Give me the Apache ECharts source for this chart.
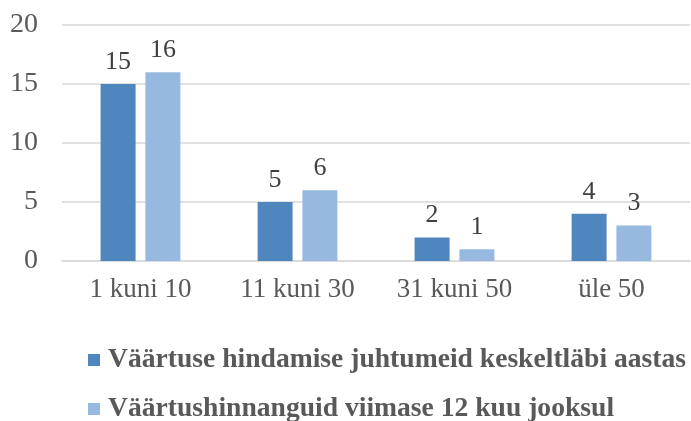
<!DOCTYPE html>
<html>
<head>
<meta charset="UTF-8">
<title></title>
<script src="https://cdn.jsdelivr.net/npm/echarts@6/dist/echarts.min.js"></script>
<style>
  html, body { margin: 0; padding: 0; background: #fff; }
  #main { width: 691px; height: 421px; }
</style>
</head>
<body>
<div id="main"></div>
<script>
// andmed
var categories = ['1 kuni 10', '11 kuni 30', '31 kuni 50', 'üle 50'];
var seriesNames = ['Väärtuse hindamise juhtumeid keskeltläbi aastas', 'Väärtushinnanguid viimase 12 kuu jooksul'];
var avgPerYear = [15, 5, 2, 4];
var last12Months = [16, 6, 1, 3];
var yTicks = [0, 5, 10, 15, 20];

var font = '"Liberation Serif", "Times New Roman", serif';

// legend: üks kirje rea kohta
function legendRow(name, top) {
    return {
        orient: 'vertical',
        left: 88,
        top: top,
        padding: 0,
        itemWidth: 12,
        itemHeight: 12,
        itemGap: 0,
        icon: 'rect',
        textStyle: { fontFamily: font, fontSize: 27.6, lineHeight: 24, fontWeight: 'bold', color: '#595959', padding: [0, 0, 0, 3] },
        data: [name]
    };
}

var chart = echarts.init(document.getElementById('main'));
chart.setOption({
    animation: false,
    color: ['#4F86BE', '#97B9E0'],
    grid: { left: 62, right: 1, top: 25, bottom: 160, containLabel: false },
    legend: [legendRow(seriesNames[0], 346), legendRow(seriesNames[1], 395)],
    xAxis: {
        type: 'category',
        data: categories,
        axisLine: { lineStyle: { color: '#D9D9D9', width: 1.5 } },
        axisTick: { show: false },
        axisLabel: { fontFamily: font, fontSize: 27, color: '#595959', margin: 15 }
    },
    yAxis: {
        type: 'value',
        min: yTicks[0],
        max: yTicks[yTicks.length - 1],
        interval: 5,
        axisLine: { show: false },
        axisTick: { show: false },
        splitLine: { lineStyle: { color: '#D9D9D9', width: 1.5 } },
        axisLabel: { fontFamily: font, fontSize: 28, color: '#595959', margin: 24 }
    },
    series: [{
        name: seriesNames[0],
        type: 'bar',
        data: avgPerYear,
        barWidth: 35,
        barGap: '28%',
        label: { show: true, position: 'top', distance: 9, fontFamily: font, fontSize: 26, color: '#404040' }
    }, {
        name: seriesNames[1],
        type: 'bar',
        data: last12Months,
        barWidth: 35,
        label: { show: true, position: 'top', distance: 9, fontFamily: font, fontSize: 26, color: '#404040' }
    }]
});
</script>
</body>
</html>
